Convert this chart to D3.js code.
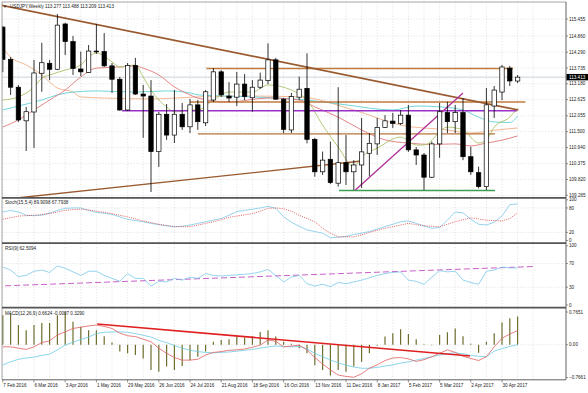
<!DOCTYPE html>
<html>
<head>
<meta charset="utf-8">
<script src="https://cdn.jsdelivr.net/npm/d3@7/dist/d3.min.js"></script>
<style>
  body { margin: 0; background: #fff; }
  svg text { font-family: "Liberation Sans", Arial, sans-serif; font-size: 4.6px; fill: #222; }
</style>
</head>
<body>
<div id="vis"></div>
<script>
// weekly bars, 7 Feb 2016 .. 14 May 2017 (67 bars)
const open  = [115.17,114.04,113.06,111.88,112.19,113.55,113.90,113.69,115.28,114.66,113.70,113.58,114.33,114.31,113.81,113.34,112.26,113.82,112.82,112.75,110.80,112.11,111.38,112.11,111.67,112.44,111.81,112.61,113.60,112.75,112.71,113.17,112.69,113.06,113.29,114.02,112.64,111.56,112.71,113.02,111.23,110.09,110.53,109.69,110.41,110.09,110.33,110.74,111.07,111.65,111.87,111.79,112.08,110.86,110.68,109.90,111.07,112.17,111.85,112.17,110.62,110.06,109.57,112.40,112.89,113.73,113.277];
const high  = [115.21,114.12,113.14,112.37,114.02,114.62,114.02,115.63,115.32,114.86,114.31,114.54,115.28,114.96,113.91,113.42,113.91,114.09,113.14,113.31,112.19,112.47,112.96,112.51,112.65,112.61,112.96,113.73,113.66,113.24,113.60,113.52,113.31,113.57,114.60,114.09,112.68,112.86,113.43,114.25,111.28,110.80,111.15,113.06,111.38,110.50,111.98,111.45,111.98,112.08,112.16,112.26,112.44,110.96,110.75,111.15,112.51,112.55,112.44,112.68,110.97,110.27,113.03,113.10,113.84,113.81,113.488];
const low   = [113.59,112.79,111.84,110.82,110.93,112.90,113.31,113.66,114.19,113.49,113.45,113.56,114.23,113.77,112.86,112.23,112.23,112.79,111.28,109.38,110.26,111.21,111.10,111.56,111.45,111.56,111.70,112.54,112.72,112.54,112.40,112.61,112.20,113.00,113.17,112.61,111.45,111.45,112.61,111.09,109.92,109.98,109.66,109.57,109.63,109.45,109.52,109.94,110.68,111.63,111.63,111.73,110.79,110.33,109.45,109.87,110.58,111.45,111.45,110.50,109.98,109.51,109.45,111.98,112.61,113.10,113.209];
const close = [114.04,113.06,111.91,112.20,113.56,113.92,113.69,115.24,114.66,113.72,113.60,114.33,114.30,113.81,113.34,112.26,113.82,112.82,112.75,110.80,112.11,111.38,112.11,111.67,112.44,111.85,112.90,113.60,112.79,112.68,113.17,112.73,113.06,113.31,114.02,112.64,111.58,112.73,112.99,111.23,110.09,110.50,109.71,110.41,110.09,110.33,110.79,111.09,111.65,111.88,111.79,112.08,110.86,110.68,109.90,111.07,112.20,111.85,112.17,110.62,110.09,109.57,112.44,112.96,113.77,113.28,113.413];

const dateLabels = ['7 Feb 2016','6 Mar 2016','3 Apr 2016','1 May 2016','29 May 2016','26 Jun 2016','24 Jul 2016','21 Aug 2016','18 Sep 2016','16 Oct 2016','13 Nov 2016','11 Dec 2016','8 Jan 2017','5 Feb 2017','5 Mar 2017','2 Apr 2017','30 Apr 2017'];
const priceTicks = [115.455,114.860,114.290,113.735,113.180,112.625,112.055,111.500,110.940,110.375,109.820,109.265];
const lastPrice = 113.413;

// moving averages, read as [bar, price]
const maTan   = [[0,114.44],[1,114.12],[3,113.84],[5,113.49],[6,113.24],[7,113.03],[9,112.89],[10,112.72],[13,112.68],[19,112.65],[25,112.72],[32,112.75],[38,112.72],[45,112.26],[51,111.73],[57,111.56],[60,111.45],[63,111.55],[66,111.63]];
const maRed   = [[0,111.66],[2,111.91],[4,112.26],[6,112.61],[8,112.96],[10,113.42],[12,113.73],[15,113.77],[17,113.81],[18,113.73],[20,113.49],[22,113.07],[24,112.79],[25,112.68],[29,112.54],[34,112.68],[38,112.61],[40,112.37],[43,112.01],[46,111.56],[49,111.21],[52,111.10],[55,111.05],[58,111.07],[60,111.00],[62,111.10],[64,111.20],[66,111.35]];
const maCyan  = [[0,112.26],[2,112.40],[5,112.61],[7,112.79],[9,112.89],[12,112.93],[17,112.89],[21,112.93],[24,112.86],[25,112.79],[32,112.72],[39,112.61],[44,112.44],[50,112.26],[53,112.40],[56,112.37],[59,112.26],[61,112.01],[63,111.84],[65,111.82],[66,112.05]];
const maOlive = [[0,112.61],[2,112.72],[4,113.07],[5,113.38],[6,113.49],[8,113.66],[10,113.84],[11,114.12],[12,114.26],[14,113.95],[15,113.77],[17,113.84],[18,113.42],[19,112.96],[20,112.61],[21,112.37],[22,112.19],[24,112.26],[25,112.26],[27,112.61],[29,112.89],[32,112.89],[34,113.14],[37,112.96],[39,112.61],[41,111.73],[43,110.96],[45,110.26],[46,110.61],[48,110.92],[51,111.31],[53,111.03],[54,111.03],[57,111.66],[59,111.56],[61,111.10],[62,111.21],[63,111.66],[65,112.01],[66,112.33]];

// drawn lines [bar, price]
const trendDown = [[-0.4,115.95],[66.1,112.26]];
const trendUp   = [[1.8,109.17],[46,110.47]];
const levelTop  = [[26.1,113.717],[65.4,113.717]];
const levelMid  = [[24,112.54],[67,112.54]];
const levelLow  = [[25,111.42],[63.1,111.42]];
const levelPurple = [[15.3,112.235],[65.9,112.235]];
const supportGreen = [[43.1,109.43],[63.1,109.43]];
const riseMagenta = [[45.2,109.45],[59,112.86]];

// Stoch(15,5,4)
const stochK = [70,74,70,62,61,62,67,74,79,80,80,74,69,67,64,58,52,49,46,42,39,36,34,35,38,42,46,50,54,62,71,74,77,80,84,79,58,45,35,26,22,18,7,8,10,15,18,22,28,34,40,46,48,42,36,30,32,50,70,68,52,40,38,45,60,88,89.91];
const stochD = [52,56,60,61,62,64,66,70,74,76,77,75,72,69,66,62,58,53,48,44,40,37,34,34,34,38,42,46,51,57,60,63,66,72,79,80,78,72,62,54,46,30,18,9,9,9,14,20,25,30,34,38,42,39,36,35,34,40,46,51,56,53,50,49,48,54,67.79];
// RSI(9)
const rsi = [64,59,48,50,57,59,55,66,62,56,50,57,57,50,45,40,53,45,45,32,40,39,45,42,47,45,53,50,49,50,51,52,53,56,60,50,39,47,50,36,32,35,31,38,36,39,42,46,50,53,55,56,42,40,35,47,58,56,57,42,38,35,57,59,64,62.7,62.51];
const rsiTrend = [[0.3,32.4],[68,65]];
// MACD(12,26,9)
const macdHist = [0.69,0.73,0.46,0.34,0.46,0.51,0.51,0.69,0.77,0.54,0.42,0.34,0.34,0.20,0.05,-0.16,-0.20,-0.24,-0.32,-0.59,-0.63,-0.51,-0.59,-0.50,-0.36,-0.28,-0.16,0.07,0.11,0.13,0.19,0.17,0.20,0.30,0.34,0.19,0.07,0.02,-0.08,-0.20,-0.48,-0.59,-0.72,-0.59,-0.63,-0.51,-0.40,-0.20,-0.02,0.19,0.27,0.36,0.25,0.13,0.01,-0.01,0.23,0.29,0.38,0.20,0.02,-0.19,0.07,0.27,0.52,0.62,0.6624];
const macdRed = [-0.05,-0.05,-0.08,-0.11,-0.05,0.05,0.09,0.23,0.30,0.38,0.41,0.44,0.46,0.43,0.38,0.27,0.21,0.19,0.13,0.07,-0.08,-0.20,-0.30,-0.36,-0.36,-0.34,-0.24,-0.18,-0.16,-0.13,-0.12,-0.10,-0.06,-0.01,0.11,0.08,-0.05,-0.03,-0.01,-0.12,-0.30,-0.45,-0.59,-0.71,-0.74,-0.76,-0.68,-0.55,-0.47,-0.37,-0.31,-0.30,-0.33,-0.39,-0.35,-0.28,-0.20,-0.12,-0.18,-0.27,-0.32,-0.37,-0.28,-0.05,0.15,0.25,0.329];
const macdCyan = [-0.47,-0.40,-0.34,-0.31,-0.29,-0.25,-0.22,-0.12,-0.01,0.06,0.12,0.18,0.26,0.29,0.30,0.30,0.29,0.26,0.22,0.18,0.10,0.05,-0.02,-0.08,-0.13,-0.16,-0.18,-0.19,-0.18,-0.17,-0.15,-0.13,-0.11,-0.08,-0.05,-0.03,-0.04,-0.05,-0.04,-0.10,-0.20,-0.28,-0.36,-0.42,-0.48,-0.52,-0.55,-0.55,-0.53,-0.50,-0.47,-0.43,-0.40,-0.36,-0.32,-0.28,-0.24,-0.21,-0.19,-0.21,-0.25,-0.27,-0.28,-0.15,-0.09,-0.04,-0.0007];
const macdTrend = [[12.1,0.484],[59.9,-0.264]];

const W = 588, H = 393, left = 2, right = 566;

let svg = d3.select('#vis').append('svg')
  .attr('width', W).attr('height', H);
svg.append('rect').attr('width', W).attr('height', H).attr('fill', '#fff');

let x = d3.scaleLinear().domain([0, 66]).range([2.8, 517.6]);

let panels = [
  {id: 'main',  top: 2,     bottom: 197.2, y: d3.scaleLinear().domain([109.265, 115.455]).range([195.3, 19])},
  {id: 'stoch', top: 198.6, bottom: 242,   y: d3.scaleLinear().domain([0, 100]).range([240.5, 199.8])},
  {id: 'rsi',   top: 244.2, bottom: 306.6, y: d3.scaleLinear().domain([0, 100]).range([305, 245.8])},
  {id: 'macd',  top: 308.8, bottom: 379.6, y: d3.scaleLinear().domain([-0.7661, 0.7651]).range([377.5, 312])}
];
let P = {};
panels.forEach(p => P[p.id] = p);

let defs = svg.append('defs');
panels.forEach(p => {
  defs.append('clipPath').attr('id', 'clip-' + p.id)
    .append('rect').attr('x', left).attr('y', p.top)
    .attr('width', right - left).attr('height', p.bottom - p.top);
});

// grid
let gridStyle = g => g.attr('stroke', '#c8c8c8').attr('stroke-width', 0.55).attr('stroke-dasharray', '1,1.8');
panels.forEach(p => {
  let g = svg.append('g').attr('clip-path', 'url(#clip-' + p.id + ')');
  g.selectAll('line.v').data(d3.range(0, 70, 2)).enter().append('line')
    .attr('x1', d => x(d)).attr('x2', d => x(d))
    .attr('y1', p.top).attr('y2', p.bottom).call(gridStyle);
});
let hGrid = [
  ['main', priceTicks], ['stoch', [80, 20]], ['rsi', [70, 30]], ['macd', [0]]
];
hGrid.forEach(([id, vals]) => {
  svg.append('g').selectAll('line').data(vals).enter().append('line')
    .attr('x1', left).attr('x2', right)
    .attr('y1', d => P[id].y(d)).attr('y2', d => P[id].y(d)).call(gridStyle);
});

// ---------- main panel
let yM = P.main.y;
let gMain = svg.append('g').attr('clip-path', 'url(#clip-main)');
let pline = d3.line().x(d => x(d[0])).y(d => yM(d[1]));
let smooth = d3.line().x(d => x(d[0])).y(d => yM(d[1])).curve(d3.curveMonotoneX);

// current price line
gMain.append('line').attr('x1', left).attr('x2', right)
  .attr('y1', yM(lastPrice)).attr('y2', yM(lastPrice))
  .attr('stroke', '#b4c0c8').attr('stroke-width', 0.7);

[[maTan, '#f0b08a'], [maCyan, '#62d0d6'], [maRed, '#e0787a'], [maOlive, '#a9c46a']].forEach(([d, c]) => {
  gMain.append('path').datum(d).attr('d', smooth).attr('fill', 'none')
    .attr('stroke', c).attr('stroke-width', 0.9);
});

[[levelTop, '#c07a3c', 1.6], [levelMid, '#c07a3c', 1.3], [levelLow, '#b8733a', 1.4],
 [levelPurple, '#9a30c8', 1.5], [supportGreen, '#3aa050', 1.5],
 [trendDown, '#9a5a30', 1.7], [trendUp, '#9a5a30', 1.3], [riseMagenta, '#b0309a', 1.3]]
 .forEach(([d, c, w]) => {
  gMain.append('path').datum(d).attr('d', pline).attr('fill', 'none')
    .attr('stroke', c).attr('stroke-width', w);
});

// candles
let bars = d3.range(open.length);
gMain.selectAll('line.wick').data(bars).enter().append('line')
  .attr('x1', i => x(i)).attr('x2', i => x(i))
  .attr('y1', i => yM(high[i])).attr('y2', i => yM(low[i]))
  .attr('stroke', '#000').attr('stroke-width', 0.8);
gMain.selectAll('rect.body').data(bars).enter().append('rect')
  .attr('x', i => x(i) - 2.2).attr('width', 4.4)
  .attr('y', i => yM(Math.max(open[i], close[i])))
  .attr('height', i => Math.max(0.8, Math.abs(yM(open[i]) - yM(close[i]))))
  .attr('fill', i => close[i] >= open[i] ? '#fff' : '#000')
  .attr('stroke', '#000').attr('stroke-width', 0.7);

// ---------- stoch
let yS = P.stoch.y;
let gS = svg.append('g').attr('clip-path', 'url(#clip-stoch)');
gS.append('path').datum(stochK)
  .attr('d', d3.line().x((d, i) => x(i)).y(d => yS(d)))
  .attr('fill', 'none').attr('stroke', '#7cc8e8').attr('stroke-width', 0.8);
gS.append('path').datum(stochD)
  .attr('d', d3.line().x((d, i) => x(i)).y(d => yS(d)))
  .attr('fill', 'none').attr('stroke', '#e03a3a').attr('stroke-width', 0.8)
  .attr('stroke-dasharray', '1,1.2');

// ---------- rsi
let yR = P.rsi.y;
let gR = svg.append('g').attr('clip-path', 'url(#clip-rsi)');
gR.append('path').datum(rsiTrend)
  .attr('d', d3.line().x(d => x(d[0])).y(d => yR(d[1])))
  .attr('fill', 'none').attr('stroke', '#c860c8').attr('stroke-width', 1)
  .attr('stroke-dasharray', '6,3');
gR.append('path').datum(rsi)
  .attr('d', d3.line().x((d, i) => x(i)).y(d => yR(d)))
  .attr('fill', 'none').attr('stroke', '#7cc8e8').attr('stroke-width', 0.8);

// ---------- macd
let yD = P.macd.y;
let gD = svg.append('g').attr('clip-path', 'url(#clip-macd)');
gD.selectAll('line.hist').data(macdHist).enter().append('line')
  .attr('x1', (d, i) => x(i)).attr('x2', (d, i) => x(i))
  .attr('y1', yD(0)).attr('y2', d => yD(d))
  .attr('stroke', '#6e6e30').attr('stroke-width', 1.2);
gD.append('path').datum(macdCyan)
  .attr('d', d3.line().x((d, i) => x(i)).y(d => yD(d)))
  .attr('fill', 'none').attr('stroke', '#6ccbe6').attr('stroke-width', 0.8);
gD.append('path').datum(macdRed)
  .attr('d', d3.line().x((d, i) => x(i)).y(d => yD(d)))
  .attr('fill', 'none').attr('stroke', '#e06060').attr('stroke-width', 0.8);
gD.append('path').datum(macdTrend)
  .attr('d', d3.line().x(d => x(d[0])).y(d => yD(d[1])))
  .attr('fill', 'none').attr('stroke', '#e02020').attr('stroke-width', 1.6);

// ---------- frame
svg.append('line').attr('x1', left).attr('x2', right).attr('y1', 2).attr('y2', 2).attr('stroke', '#909090').attr('stroke-width', 0.8);
svg.append('line').attr('x1', left).attr('x2', left).attr('y1', 2).attr('y2', 379.6).attr('stroke', '#909090').attr('stroke-width', 0.8);
svg.append('line').attr('x1', right).attr('x2', right).attr('y1', 2).attr('y2', 379.6).attr('stroke', '#505050').attr('stroke-width', 0.9);
[197.9, 243.1, 307.7].forEach(yy => {
  svg.append('line').attr('x1', left).attr('x2', right).attr('y1', yy).attr('y2', yy)
    .attr('stroke', '#555').attr('stroke-width', 1.8);
});
svg.append('line').attr('x1', left).attr('x2', right).attr('y1', 379.8).attr('y2', 379.8)
  .attr('stroke', '#505050').attr('stroke-width', 0.9);

// ---------- right axis labels
let fmt3 = d3.format('.3f');
let axisLabels = [
  ['main', priceTicks, fmt3],
  ['stoch', [100, 80, 20, 0], d3.format('d')],
  ['rsi', [100, 70, 30, 0], d3.format('d')],
  ['macd', [0.7651, 0, -0.7661], d => d === 0 ? '0.00' : d3.format('.4f')(d)]
];
axisLabels.forEach(([id, vals, f]) => {
  let g = svg.append('g');
  g.selectAll('line').data(vals).enter().append('line')
    .attr('x1', right).attr('x2', right + 2)
    .attr('y1', d => P[id].y(d)).attr('y2', d => P[id].y(d))
    .attr('stroke', '#505050').attr('stroke-width', 0.6);
  g.selectAll('text').data(vals).enter().append('text')
    .attr('x', right + 3).attr('y', d => P[id].y(d) + 1.6)
    .text(f);
});
// last price tag
svg.append('rect').attr('x', right + 0.5).attr('y', yM(lastPrice) - 3.2)
  .attr('width', 21.5).attr('height', 6.4).attr('fill', '#000');
svg.append('text').attr('x', right + 3).attr('y', yM(lastPrice) + 1.6)
  .style('fill', '#fff').text(fmt3(lastPrice));

// ---------- date axis
let dateIdx = dateLabels.map((d, k) => k * 4);
svg.append('g').selectAll('line').data(dateIdx).enter().append('line')
  .attr('x1', i => x(i)).attr('x2', i => x(i)).attr('y1', 379.8).attr('y2', 382.5)
  .attr('stroke', '#505050').attr('stroke-width', 0.6);
svg.append('g').selectAll('text').data(dateLabels).enter().append('text')
  .attr('x', (d, k) => x(dateIdx[k]) + 0.5).attr('y', 387)
  .text(d => d);

// ---------- panel titles
svg.append('text').attr('x', 3).attr('y', 7.6).style('font-size', '4px').text('\u25BC');
svg.append('text').attr('x', 10).attr('y', 7.6).text('USDJPY,Weekly  113.277 113.488 113.209 113.413');
svg.append('text').attr('x', 5).attr('y', 204).text('Stoch(15,5,4) 89.9098 67.7938');
svg.append('text').attr('x', 5).attr('y', 249.8).text('RSI(9) 62.5094');
svg.append('text').attr('x', 5).attr('y', 314.6).text('MACD(12,26,9) 0.6624 -0.0007 0.3290');
</script>
</body>
</html>
